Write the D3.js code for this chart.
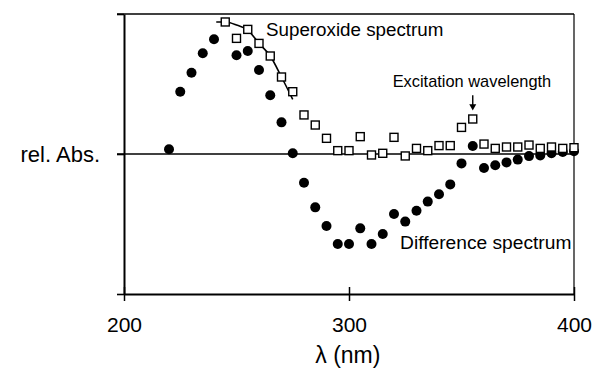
<!DOCTYPE html>
<html>
<head>
<meta charset="utf-8">
<script src="https://cdn.jsdelivr.net/npm/d3@7"></script>
<style>
  body { margin: 0; background: #fff; }
  svg { font-family: "Liberation Sans", Arial, Helvetica, sans-serif; }
</style>
</head>
<body>
<div id="chart"></div>
<script>
// wavelengths (nm) and relative absorbance
const diffWl = [220, 225, 230, 235, 240, 250, 255, 260, 265, 270, 275, 280, 285, 290, 295, 300,
                305, 310, 315, 320, 325, 330, 335, 340, 345, 350, 355, 360, 365, 370, 375, 380,
                385, 390, 395, 400]
const diffAbs = [0.034, 0.445, 0.58, 0.72, 0.82, 0.705, 0.736, 0.60, 0.42, 0.226, 0.005, -0.205,
                 -0.381, -0.514, -0.643, -0.643, -0.531, -0.643, -0.571, -0.429, -0.483, -0.405,
                 -0.34, -0.288, -0.217, -0.067, 0.057, -0.10, -0.08, -0.06, -0.04, -0.015, -0.01,
                 0.005, 0.015, 0.02]

const supWl = [245, 250, 255, 260, 265, 270, 275, 280, 285, 290, 295, 300, 305, 310, 315, 320,
               325, 330, 335, 340, 345, 350, 355, 360, 365, 370, 375, 380, 385, 390, 395, 400]
const supAbs = [0.943, 0.826, 0.89, 0.79, 0.70, 0.55, 0.445, 0.279, 0.207, 0.112, 0.024, 0.024,
                0.124, -0.007, 0.005, 0.119, -0.014, 0.04, 0.024, 0.06, 0.06, 0.19, 0.25, 0.071,
                0.04, 0.05, 0.05, 0.064, 0.04, 0.05, 0.04, 0.045]

// fitted curve drawn through the superoxide points
const fitWl = [241, 245, 250, 255, 260, 265, 270, 275]
const fitAbs = [0.943, 0.943, 0.922, 0.885, 0.79, 0.70, 0.55, 0.39]

const xTicks = [200, 300, 400]
const yTicks = [-1, 0, 1]

const width = 596, height = 369

const svg = d3.select('#chart').append('svg')
    .attr('width', width)
    .attr('height', height)

const x = d3.scaleLinear().domain([200, 400]).range([124, 574])
const y = d3.scaleLinear().domain([-1, 1]).range([294, 14])

// frame: top and right
svg.append('line')
    .attr('x1', x(200) - 7).attr('x2', x(400))
    .attr('y1', y(1)).attr('y2', y(1))
    .attr('stroke', '#000').attr('stroke-width', 1.6)
svg.append('line')
    .attr('x1', x(400)).attr('x2', x(400))
    .attr('y1', y(1)).attr('y2', y(-1))
    .attr('stroke', '#000').attr('stroke-width', 1.2)

// zero line
svg.append('line')
    .attr('x1', x(200) - 7).attr('x2', x(400))
    .attr('y1', y(0)).attr('y2', y(0))
    .attr('stroke', '#000').attr('stroke-width', 1.5)

// bottom axis, ticks cross the line
const xAxis = svg.append('g')
    .attr('transform', `translate(0,${y(-1)})`)
    .call(d3.axisBottom(x).tickValues(xTicks).tickSize(7).tickPadding(16).tickSizeOuter(0))
xAxis.select('.domain').attr('stroke-width', 2)
xAxis.selectAll('.tick line').attr('y1', -7).attr('stroke-width', 1.5)
xAxis.selectAll('.tick text')
    .attr('font-size', 21)
    .attr('font-family', '"Liberation Sans", Arial, sans-serif')
    .attr('fill', '#000')

// left axis
const yAxis = svg.append('g')
    .attr('transform', `translate(${x(200)},0)`)
    .call(d3.axisLeft(y).tickValues(yTicks).tickSize(7).tickSizeOuter(0).tickFormat(''))
yAxis.select('.domain').attr('stroke-width', 2)
yAxis.selectAll('.tick line').attr('stroke-width', 1.6)

svg.append('text')
    .attr('x', 100)
    .attr('y', y(0) + 8)
    .attr('text-anchor', 'end')
    .attr('font-size', 22)
    .text('rel. Abs.')

svg.append('text')
    .attr('x', x(299.5))
    .attr('y', 363)
    .attr('text-anchor', 'middle')
    .attr('font-size', 23)
    .text('λ (nm)')

// fitted line
const line = d3.line()
    .x((d, i) => x(fitWl[i]))
    .y(d => y(d))
    .curve(d3.curveMonotoneX)
svg.append('path')
    .attr('d', line(fitAbs))
    .attr('fill', 'none')
    .attr('stroke', '#000')
    .attr('stroke-width', 1.6)

// difference spectrum (filled circles)
svg.append('g').selectAll('circle')
    .data(diffAbs)
    .enter()
    .append('circle')
    .attr('cx', (d, i) => x(diffWl[i]))
    .attr('cy', d => y(d))
    .attr('r', 5)
    .attr('fill', '#000')

// superoxide spectrum (open squares)
const sq = 8
svg.append('g').selectAll('rect')
    .data(supAbs)
    .enter()
    .append('rect')
    .attr('x', (d, i) => x(supWl[i]) - sq / 2)
    .attr('y', d => y(d) - sq / 2)
    .attr('width', sq)
    .attr('height', sq)
    .attr('fill', '#fff')
    .attr('stroke', '#000')
    .attr('stroke-width', 1.4)

// annotations
svg.append('text')
    .attr('x', x(263.1)).attr('y', y(0.843))
    .attr('font-size', 18.8)
    .text('Superoxide spectrum')

svg.append('text')
    .attr('x', x(319.4)).attr('y', y(0.479))
    .attr('font-size', 16.4)
    .text('Excitation wavelength')

svg.append('line')
    .attr('x1', x(355)).attr('x2', x(355))
    .attr('y1', y(0.42)).attr('y2', y(0.34))
    .attr('stroke', '#000').attr('stroke-width', 1.4)
svg.append('path')
    .attr('d', `M${x(355) - 3.5},${y(0.355)} L${x(355) + 3.5},${y(0.355)} L${x(355)},${y(0.31)} Z`)
    .attr('fill', '#000')

svg.append('text')
    .attr('x', x(322.7)).attr('y', y(-0.679))
    .attr('font-size', 19.2)
    .text('Difference spectrum')
</script>
</body>
</html>
